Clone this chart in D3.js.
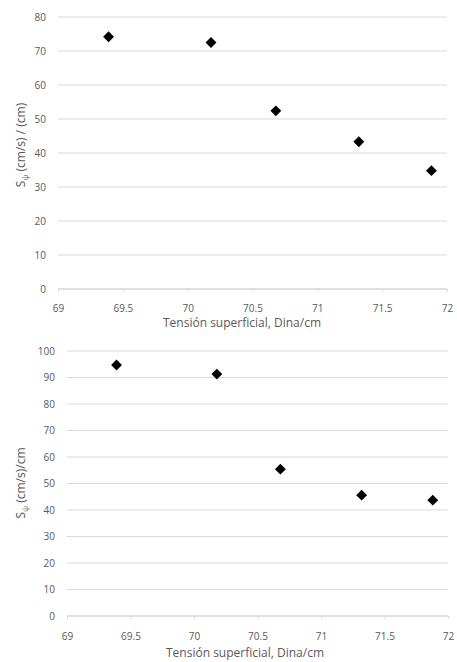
<!DOCTYPE html>
<html>
<head>
<meta charset="utf-8">
<script src="https://cdn.jsdelivr.net/npm/d3@7"></script>
<style>
  body { margin: 0; background: #fff; }
  svg { display: block; font-family: "Open Sans", sans-serif; }
</style>
</head>
<body>
<svg width="457" height="662"></svg>
<script>
// shared x values (surface tension)
let tension = [69.39, 70.18, 70.68, 71.32, 71.88];
// top chart
let topValues = [74.2, 72.5, 52.4, 43.3, 34.8];
let topTicks = [0, 10, 20, 30, 40, 50, 60, 70, 80];
// bottom chart
let bottomValues = [94.7, 91.3, 55.4, 45.6, 43.7];
let bottomTicks = [0, 10, 20, 30, 40, 50, 60, 70, 80, 90, 100];
let xTicks = [69, 69.5, 70, 70.5, 71, 71.5, 72];
let xTitle = "Tensión superficial, Dina/cm";

const svg = d3.select("svg");
const textColor = "#595959";

function drawChart(cfg) {
  const g = svg.append("g");
  const xScale = d3.scaleLinear().domain([69, 72]).range([cfg.left, cfg.right]);
  const yScale = d3.scaleLinear().domain([0, cfg.yMax]).range([cfg.bottom, cfg.top]);

  //gridlines
  g.selectAll("line.grid")
    .data(cfg.yTicks)
    .enter()
    .append("line")
    .attr("class", "grid")
    .attr("x1", cfg.left)
    .attr("x2", cfg.right)
    .attr("y1", d => yScale(d))
    .attr("y2", d => yScale(d))
    .attr("stroke", d => d == 0 ? "#bfbfbf" : "#d9d9d9")
    .attr("stroke-width", 1);

  //axes
  const xAxis = d3.axisBottom(xScale)
    .tickValues(xTicks)
    .tickSize(3)
    .tickPadding(cfg.xPad)
    .tickFormat(d3.format("~g"));
  const xg = g.append("g")
    .attr("transform", `translate(0, ${cfg.bottom})`)
    .call(xAxis);
  xg.select(".domain").remove();
  xg.selectAll("line").attr("stroke", "#d9d9d9");
  xg.selectAll("text")
    .attr("fill", textColor)
    .style("font-size", "10px")
    .style("font-family", "Open Sans, sans-serif");

  const yAxis = d3.axisLeft(yScale)
    .tickValues(cfg.yTicks)
    .tickSize(0)
    .tickPadding(cfg.yPad);
  const yg = g.append("g")
    .attr("transform", `translate(${cfg.left}, 0)`)
    .call(yAxis);
  yg.select(".domain").remove();
  yg.selectAll("text")
    .attr("fill", textColor)
    .style("font-size", "10px")
    .style("font-family", "Open Sans, sans-serif");

  //x title
  g.append("text")
    .attr("x", cfg.titleX)
    .attr("y", cfg.titleY)
    .attr("text-anchor", "middle")
    .attr("fill", textColor)
    .style("font-size", "12px")
    .text(xTitle);

  //y title
  const yt = g.append("text")
    .attr("transform", `translate(${cfg.yLabelX}, ${cfg.yLabelY}) rotate(-90)`)
    .attr("text-anchor", "middle")
    .attr("fill", textColor)
    .style("font-size", "12px");
  yt.append("tspan").text("S");
  yt.append("tspan").attr("dy", 3).style("font-size", "8px").text("ψ");
  yt.append("tspan").attr("dy", -3).text(cfg.yLabel);

  //points
  const diamond = d3.symbol().type(d3.symbolDiamond2).size(75);
  g.selectAll("path.pt")
    .data(cfg.values)
    .enter()
    .append("path")
    .attr("class", "pt")
    .attr("d", diamond)
    .attr("transform", (d, i) => `translate(${xScale(tension[i])}, ${yScale(d)})`)
    .attr("fill", "#000");
}

drawChart({
  values: topValues, yTicks: topTicks, yMax: 80,
  left: 58, right: 447, top: 17, bottom: 289, yPad: 12, xPad: 13,
  titleX: 242, titleY: 327,
  yLabel: " (cm/s) / (cm)", yLabelX: 25, yLabelY: 145
});

drawChart({
  values: bottomValues, yTicks: bottomTicks, yMax: 100,
  left: 67, right: 448, top: 351, bottom: 616, yPad: 12, xPad: 14,
  titleX: 245, titleY: 657,
  yLabel: " (cm/s)/cm", yLabelX: 25, yLabelY: 483
});
</script>
</body>
</html>
